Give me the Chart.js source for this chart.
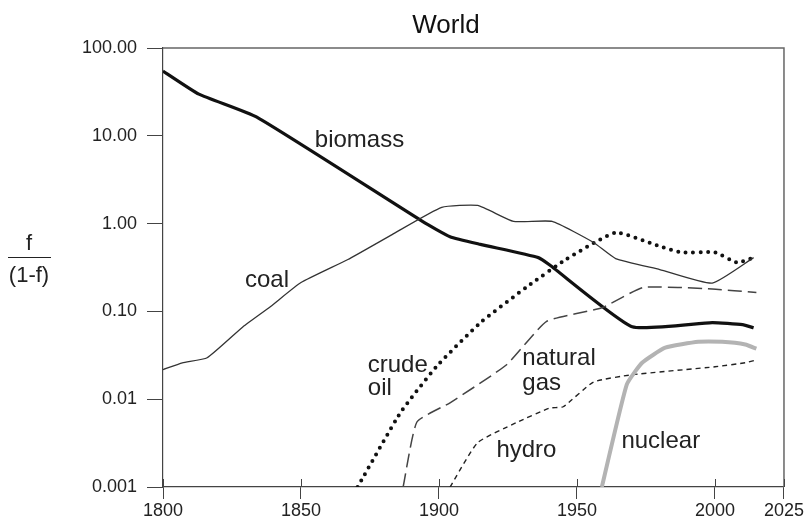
<!DOCTYPE html>
<html>
<head>
<meta charset="utf-8">
<script src="https://cdn.jsdelivr.net/npm/chart.js@4"></script>
<style>
  html, body { margin: 0; padding: 0; background: #fff; }
</style>
</head>
<body>
<canvas id="myChart" width="805" height="524"></canvas>
<script>
// values, f/(1-f) on a log scale
const biomassYears  = [1800, 1813, 1834, 1894, 1904, 1915, 1936, 1940, 1970, 1999, 2010, 2014];
const biomassValues = [54.6, 29.8, 16.3, 1.06, 0.71, 0.58, 0.41, 0.34, 0.067, 0.0745, 0.0706, 0.065];

const coalYears  = [1800, 1807, 1816, 1829, 1839, 1850, 1867, 1883, 1901, 1914, 1927, 1941, 1956, 1964, 1980, 1999, 2014];
const coalValues = [0.0217, 0.026, 0.0297, 0.067, 0.114, 0.213, 0.39, 0.75, 1.53, 1.61, 1.06, 1.06, 0.61, 0.40, 0.30, 0.21, 0.41];

const oilYears  = [1870.5, 1886, 1899, 1915, 1932, 1946, 1964, 1980, 1988, 2000, 2008, 2014];
const oilValues = [0.001, 0.0070, 0.0234, 0.0745, 0.192, 0.39, 0.79, 0.55, 0.47, 0.47, 0.36, 0.41];

const gasYears  = [1887, 1892, 1904, 1924.5, 1939, 1959, 1974, 1999, 2015];
const gasValues = [0.001, 0.0055, 0.0091, 0.0247, 0.077, 0.11, 0.187, 0.18, 0.164];

const hydroYears  = [1904, 1914, 1928, 1940, 1945, 1956, 1970, 2000, 2011, 2015];
const hydroValues = [0.001, 0.0032, 0.0054, 0.0079, 0.0082, 0.0157, 0.019, 0.0234, 0.026, 0.028];

const nuclearYears  = [1959, 1968, 1973.6, 1982, 1994, 2002.6, 2011, 2015];
const nuclearValues = [0.001, 0.0146, 0.026, 0.0386, 0.045, 0.045, 0.042, 0.0376];

const xTickValues = [1800, 1850, 1900, 1950, 2000, 2025];
const yTickValues = [0.001, 0.01, 0.1, 1, 10, 100];
const yTickLabels = ['0.001', '0.01', '0.10', '1.00', '10.00', '100.00'];

// where the in-plot names sit (left edge, baseline), in data units
const seriesNames = [
  { text: 'biomass', year: 1855, value: 7.4 },
  { text: 'coal', year: 1829.7, value: 0.192 },
  { text: 'crude', year: 1874.2, value: 0.0206 },
  { text: 'oil', year: 1874.2, value: 0.0112 },
  { text: 'natural', year: 1930.2, value: 0.0247 },
  { text: 'gas', year: 1930.2, value: 0.0128 },
  { text: 'hydro', year: 1920.8, value: 0.0022 },
  { text: 'nuclear', year: 1966.1, value: 0.0028 }
];

const FONT = '"Liberation Sans", Arial, Helvetica, sans-serif';

function pts(xs, ys) {
  return xs.map((x, i) => ({ x: x, y: ys[i] }));
}

const decorations = {
  id: 'decorations',
  afterDraw(chart) {
    const ctx = chart.ctx;
    const a = chart.chartArea;
    const xs = chart.scales.x;
    const ys = chart.scales.y;
    ctx.save();

    // top and right frame lines
    ctx.strokeStyle = '#666';
    ctx.lineWidth = 1.5;
    ctx.beginPath();
    ctx.moveTo(a.left, a.top);
    ctx.lineTo(a.right, a.top);
    ctx.lineTo(a.right, a.bottom);
    ctx.stroke();

    // x ticks poke into the plot a little
    ctx.strokeStyle = '#444';
    ctx.lineWidth = 1;
    xTickValues.forEach(v => {
      const px = Math.round(xs.getPixelForValue(v)) + 0.5;
      ctx.beginPath();
      ctx.moveTo(px, a.bottom);
      ctx.lineTo(px, a.bottom - 8);
      ctx.stroke();
    });

    // series names
    ctx.fillStyle = '#222';
    ctx.font = '24px ' + FONT;
    ctx.textAlign = 'left';
    ctx.textBaseline = 'alphabetic';
    seriesNames.forEach(n => {
      ctx.fillText(n.text, xs.getPixelForValue(n.year), ys.getPixelForValue(n.value));
    });

    // title
    ctx.font = '26px ' + FONT;
    ctx.textAlign = 'center';
    ctx.fillStyle = '#111';
    ctx.fillText('World', 446, 33);

    // y axis label as a fraction
    ctx.font = '22px ' + FONT;
    ctx.fillStyle = '#222';
    ctx.fillText('f', 29, 250);
    ctx.fillText('(1-f)', 29, 282);
    ctx.strokeStyle = '#222';
    ctx.lineWidth = 1.2;
    ctx.beginPath();
    ctx.moveTo(8, 257.5);
    ctx.lineTo(51, 257.5);
    ctx.stroke();

    ctx.restore();
  }
};

new Chart(document.getElementById('myChart'), {
  type: 'line',
  data: {
    datasets: [
      {
        label: 'nuclear',
        data: pts(nuclearYears, nuclearValues),
        borderColor: '#b3b3b3',
        borderWidth: 4
      },
      {
        label: 'hydro',
        data: pts(hydroYears, hydroValues),
        borderColor: '#222',
        borderWidth: 1.4,
        borderDash: [5, 4]
      },
      {
        label: 'natural gas',
        data: pts(gasYears, gasValues),
        borderColor: '#444',
        borderWidth: 1.5,
        borderDash: [14, 6]
      },
      {
        label: 'coal',
        data: pts(coalYears, coalValues),
        borderColor: '#333',
        borderWidth: 1.3
      },
      {
        label: 'crude oil',
        data: pts(oilYears, oilValues),
        borderColor: '#111',
        borderWidth: 4,
        borderDash: [0, 7.5],
        borderCapStyle: 'round'
      },
      {
        label: 'biomass',
        data: pts(biomassYears, biomassValues),
        borderColor: '#111',
        borderWidth: 3.2
      }
    ]
  },
  options: {
    responsive: false,
    animation: false,
    elements: {
      point: { radius: 0 },
      line: { tension: 0.15, borderJoinStyle: 'round' }
    },
    layout: { padding: { top: 48, right: 20, left: 0, bottom: 0 } },
    plugins: {
      legend: { display: false },
      tooltip: { enabled: false }
    },
    scales: {
      x: {
        type: 'linear',
        min: 1800,
        max: 2025,
        afterBuildTicks: s => { s.ticks = xTickValues.map(v => ({ value: v })); },
        afterFit: s => { s.height = 37; },
        ticks: {
          font: { family: FONT, size: 18 },
          color: '#222',
          padding: 1,
          maxRotation: 0,
          autoSkip: false,
          callback: v => String(v)
        },
        grid: { drawOnChartArea: false, tickLength: 12, color: '#444' },
        border: { color: '#444', width: 1.2 }
      },
      y: {
        type: 'logarithmic',
        min: 0.001,
        max: 100,
        afterBuildTicks: s => { s.ticks = yTickValues.map(v => ({ value: v })); },
        afterFit: s => { s.width = 163; },
        ticks: {
          font: { family: FONT, size: 18 },
          color: '#222',
          padding: 10,
          autoSkip: false,
          callback: (v) => {
            const i = yTickValues.indexOf(v);
            return i >= 0 ? yTickLabels[i] : '';
          }
        },
        grid: { drawOnChartArea: false, tickLength: 16, color: '#444' },
        border: { color: '#444', width: 1.2 }
      }
    }
  },
  plugins: [decorations]
});
</script>
</body>
</html>
